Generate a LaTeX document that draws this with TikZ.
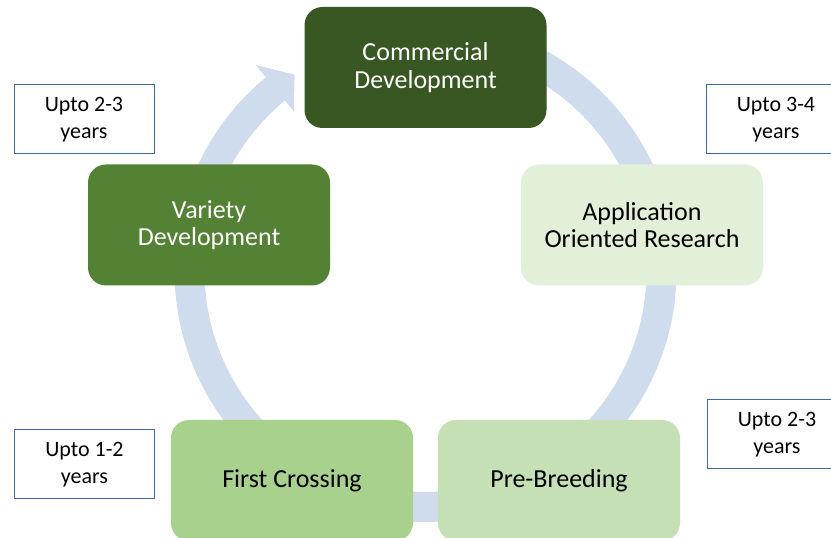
\documentclass[tikz,border=0pt]{standalone}
\usepackage{fontspec}
\setmainfont{Carlito}
\definecolor{ringblue}{RGB}{207,220,238}
\definecolor{cdgreen}{HTML}{385723}
\definecolor{vdgreen}{HTML}{548235}
\definecolor{fcgreen}{HTML}{A9D18E}
\definecolor{pbgreen}{HTML}{C5E0B4}
\definecolor{aogreen}{HTML}{E2F0D9}
\definecolor{lblblue}{HTML}{3F66B0}
\begin{document}
\begin{tikzpicture}[x=1pt,y=1pt,
  stage/.style={rounded corners=18pt, minimum width=242pt, minimum height=121pt, align=center, font=\fontsize{26}{27.5}\selectfont, inner sep=0pt},
  yearlbl/.style={draw=lblblue, line width=1pt, fill=white, minimum width=140pt, minimum height=69pt, align=center, font=\fontsize{22}{27.5}\selectfont, inner sep=0pt}]
\useasboundingbox (0,0) rectangle (831,538);
\clip (0,0) rectangle (831,538);
\fill[white] (0,0) rectangle (831,538);
\coordinate (ctr) at (425.5,267);
\begin{scope}[shift={(ctr)}]
\fill[ringblue] (95:251) arc[start angle=95,end angle=-230.5,radius=251]
  -- (129.5:267) -- (123.7:236) -- (129.5:207) -- (129.5:221)
  arc[start angle=-230.5,end angle=95,radius=221] -- cycle;
\end{scope}
\node[stage, fill=cdgreen, text=white] (cd) at (425.5,470.5) {Commercial\\Development};
\node[stage, fill=aogreen] (ao) at (642,313) {Application\\Oriented Research};
\node[stage, fill=pbgreen] (pb) at (559,57.5) {Pre-Breeding};
\node[stage, fill=fcgreen] (fc) at (292,57.5) {First Crossing};
\node[stage, fill=vdgreen, text=white] (vd) at (209,313) {Variety\\Development};
\node[yearlbl] (l1) at (84,418.5) {Upto 2-3\\years};
\node[yearlbl] (l2) at (776,418.5) {Upto 3-4\\years};
\node[yearlbl] (l3) at (777,103.5) {Upto 2-3\\years};
\node[yearlbl] (l4) at (84.5,73.5) {Upto 1-2\\years};
\end{tikzpicture}
\end{document}
